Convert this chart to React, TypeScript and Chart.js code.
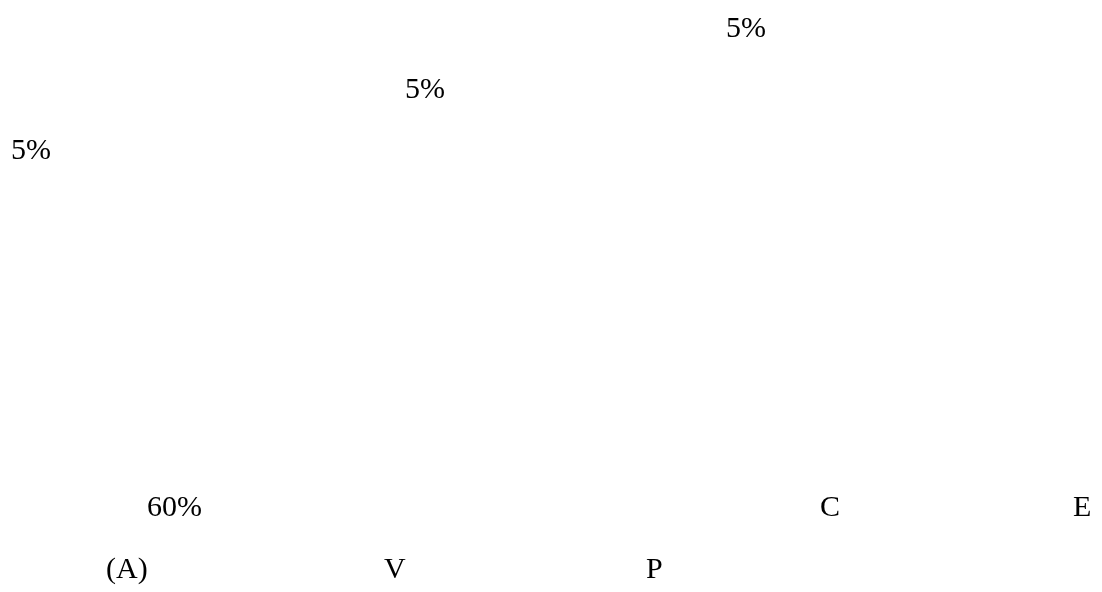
import React, { useEffect, useRef } from "react";
import { Chart, registerables } from "chart.js";

Chart.register(...registerables);

// Text fragments visible in the reference and where they sit (x: 0..1102 units left→right, y: 0..592 units top→bottom)
const sliceLabels = ["5%", "5%", "5%"];
const sliceX = [726, 405, 11];
const sliceY = [37, 98, 159];

const legendLabels = ["60%", "C", "E", "(A)", "V", "P"];
const legendX = [147, 820, 1073, 106, 384, 646];
const legendY = [516, 516, 516, 578, 578, 578];

const FONT = "30px 'Liberation Serif', 'Times New Roman', serif";

const textPlugin = {
  id: "textLabels",
  afterDatasetsDraw(chart: any) {
    const ctx = chart.ctx;
    ctx.save();
    ctx.font = FONT;
    ctx.fillStyle = "#000000";
    ctx.textAlign = "left";
    ctx.textBaseline = "alphabetic";
    chart.data.datasets.forEach((ds: any, i: number) => {
      const meta = chart.getDatasetMeta(i);
      meta.data.forEach((el: any, j: number) => {
        ctx.fillText(ds.texts[j], el.x, el.y);
      });
    });
    ctx.restore();
  },
};

export default function App() {
  const ref = useRef<HTMLCanvasElement | null>(null);
  useEffect(() => {
    if (!ref.current) return;
    const chart = new Chart(ref.current, {
      type: "scatter",
      data: {
        datasets: [
          {
            label: "slices",
            data: sliceX.map((x, i) => ({ x, y: sliceY[i] })),
            texts: sliceLabels,
            pointRadius: 0,
            pointHoverRadius: 0,
          } as any,
          {
            label: "legend",
            data: legendX.map((x, i) => ({ x, y: legendY[i] })),
            texts: legendLabels,
            pointRadius: 0,
            pointHoverRadius: 0,
          } as any,
        ],
      },
      options: {
        animation: false,
        responsive: true,
        maintainAspectRatio: false,
        layout: { padding: 0 },
        plugins: {
          legend: { display: false },
          tooltip: { enabled: false },
          title: { display: false },
        },
        events: [],
        scales: {
          x: { type: "linear", min: 0, max: 1102, display: false },
          y: { type: "linear", min: 0, max: 592, reverse: true, display: false },
        },
      },
      plugins: [textPlugin],
    });
    return () => chart.destroy();
  }, []);
  return (
    <div style={{ position: "fixed", left: 0, top: 0, width: 1102, height: 592, background: "#ffffff" }}>
      <canvas ref={ref} />
    </div>
  );
}
